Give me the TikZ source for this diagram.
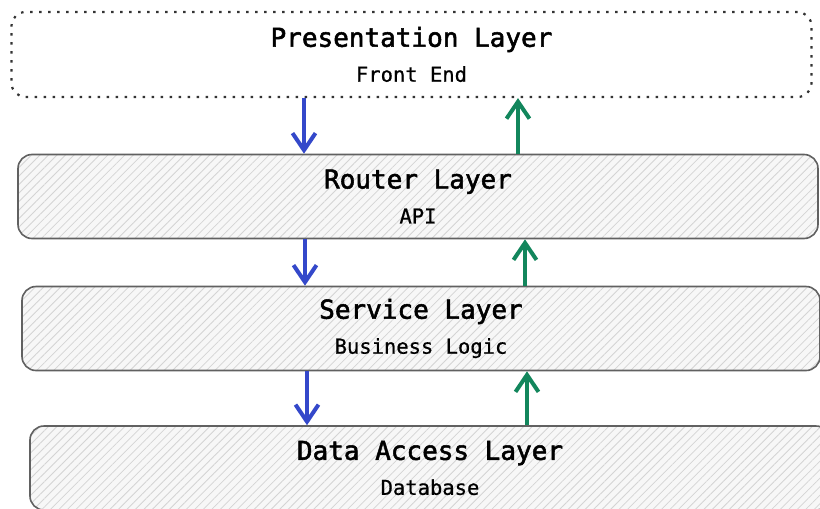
\documentclass[tikz,border=0pt]{standalone}
\usepackage{fontspec}
\setmonofont{DejaVu Sans Mono}
\newfontfamily\ttlfont[FakeBold=2]{DejaVu Sans Mono}
\newfontfamily\subfont[FakeBold=0.8]{DejaVu Sans Mono}
\usepackage{tikz}
\usetikzlibrary{arrows.meta,positioning,calc,patterns.meta}
\definecolor{reqblue}{RGB}{52,72,202}
\definecolor{resgreen}{RGB}{18,134,92}
\newcommand{\ttl}[1]{{\ttlfont\fontsize{26}{35}\selectfont #1}}

\begin{document}
\begin{tikzpicture}[x=1pt, y=-1pt, >={Straight Barb[length=17pt,width=23pt]}]
    \tikzset{
        layer/.style={draw=black!62, line width=1.6pt, rounded corners=14pt, minimum width=800pt, minimum height=84pt, align=center, font=\subfont\fontsize{20.5}{35}\selectfont, preaction={fill=black!3}, pattern={Lines[angle=45,distance=6pt,line width=0.8pt]}, pattern color=black!17},
        toplayer/.style={layer, draw=black!80, line width=2.2pt, dash pattern=on 2.5pt off 6.5pt, preaction={fill=white}, pattern=none},
        req/.style={draw=reqblue, ->, line width=4pt},
        res/.style={draw=resgreen, ->, line width=4pt}
    }
    \useasboundingbox[fill=white] (0,0) rectangle (820,509);
    \clip (0,0) rectangle (820,509);

    % Layers
    \node[toplayer, minimum height=85pt] (pres) at (411.5,54.5) {\ttl{Presentation Layer}\\Front End};
    \node[layer] (router) at (418,196.5) {\ttl{Router Layer}\\API};
    \node[layer, minimum width=798pt] (service) at (421,328.5) {\ttl{Service Layer}\\Business Logic};
    \node[layer] (data) at (430,468) {\ttl{Data Access Layer}\\Database};

    % Columns for the arrows
    \coordinate (dn1) at (304,0);
    \coordinate (dn2) at (305,0);
    \coordinate (dn3) at (307,0);
    \coordinate (up1) at (518,0);
    \coordinate (up2) at (525,0);
    \coordinate (up3) at (527,0);

    % Requests going down
    \draw[req] (pres.south -| dn1) -- (router.north -| dn1);
    \draw[req] (router.south -| dn2) -- (service.north -| dn2);
    \draw[req] (service.south -| dn3) -- (data.north -| dn3);

    % Responses going up
    \draw[res] (router.north -| up1) -- (pres.south -| up1);
    \draw[res] (service.north -| up2) -- (router.south -| up2);
    \draw[res] (data.north -| up3) -- (service.south -| up3);
\end{tikzpicture}
\end{document}
